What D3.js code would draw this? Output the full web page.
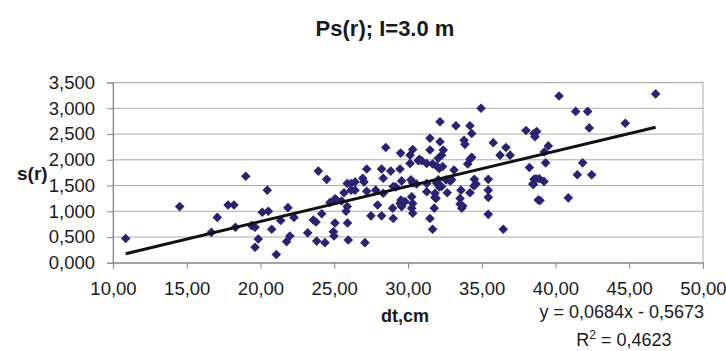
<!DOCTYPE html>
<html>
<head>
<meta charset="utf-8">
<script src="https://cdn.jsdelivr.net/npm/d3@7"></script>
<style>
  body { margin: 0; background: #fff; }
  text { font-family: "Liberation Sans", Arial, sans-serif; fill: #1a1a1a; }
</style>
</head>
<body>
<div id="chart"></div>
<script>
// values
const dtValues = [10.86, 14.52, 16.67, 17.07, 17.80, 18.20, 18.30, 19.00, 19.40, 19.63,
  19.63, 19.85, 20.12, 20.46, 20.53, 20.76, 21.07, 21.37, 21.86, 22.27,
  21.77, 21.99, 23.20, 23.92, 24.49, 23.58, 23.76, 24.15, 23.81, 24.37,
  24.71, 25.05, 24.94, 24.98, 25.90, 25.95, 27.08, 25.80, 25.88, 25.05,
  25.16, 25.50, 25.66, 25.88, 26.14, 26.41, 26.14, 26.41, 26.93, 27.02,
  27.20, 27.20, 27.49, 27.94, 28.21, 27.81, 28.21, 28.32, 28.49, 28.83,
  29.00, 28.96, 29.17, 28.32, 29.50, 29.46, 29.57, 29.52, 29.57, 29.46,
  30.14, 30.32, 30.14, 30.70, 30.20, 30.25, 30.32, 30.25, 30.32, 29.80,
  29.00, 34.95, 32.17, 33.25, 34.20, 34.32, 31.49, 32.17, 33.80, 33.86,
  31.49, 32.39, 32.28, 35.78, 36.64, 36.24, 36.92, 38.00, 38.54, 38.72,
  38.61, 32.05, 30.93, 30.77, 31.27, 31.67, 31.94, 32.12, 32.35, 34.20,
  34.05, 34.32, 33.12, 30.32, 30.58, 31.27, 32.05, 31.94, 32.58, 32.85,
  32.96, 32.12, 32.28, 32.66, 31.27, 31.83, 31.83, 31.90, 33.59, 34.20,
  34.50, 34.61, 34.47, 35.44, 35.44, 35.44, 35.44, 36.46, 38.23, 38.46,
  38.54, 38.83, 33.53, 33.53, 33.71, 33.64, 31.67, 31.49, 31.78, 40.24,
  41.37, 42.18, 42.29, 39.51, 39.24, 39.33, 41.84, 38.68, 38.90, 39.22,
  38.50, 41.48, 42.45, 38.95, 40.87, 46.79, 44.73];
const sValues = [0.47, 1.09, 0.59, 0.88, 1.12, 1.12, 0.69, 1.68, 0.72, 0.69,
  0.30, 0.46, 0.98, 1.41, 1.00, 0.65, 0.16, 0.82, 1.07, 0.88,
  0.41, 0.52, 0.58, 1.78, 1.62, 0.83, 0.79, 0.95, 0.42, 0.39,
  1.17, 0.77, 0.60, 0.52, 0.77, 0.44, 0.39, 1.00, 1.09, 1.24,
  1.22, 1.20, 1.36, 1.54, 1.54, 1.57, 1.41, 1.41, 1.64, 1.57,
  1.82, 1.39, 0.91, 1.12, 0.91, 1.41, 1.82, 1.64, 2.24, 1.78,
  0.86, 1.06, 1.47, 1.35, 2.13, 1.82, 1.59, 1.22, 1.09, 1.15,
  2.09, 2.20, 1.93, 1.98, 1.61, 1.28, 1.15, 1.06, 0.96, 1.19,
  1.48, 3.00, 2.74, 2.66, 2.66, 2.51, 2.42, 2.35, 2.38, 2.30,
  2.19, 2.19, 2.09, 2.33, 2.24, 2.09, 2.09, 2.57, 2.51, 2.55,
  2.45, 2.03, 1.98, 2.01, 1.93, 1.92, 1.88, 1.83, 1.87, 2.01,
  1.92, 2.05, 1.80, 1.55, 1.53, 1.54, 1.61, 1.55, 1.61, 1.59,
  1.61, 1.47, 1.48, 1.36, 1.38, 1.35, 1.27, 1.25, 1.41, 1.36,
  1.62, 1.53, 1.49, 1.62, 1.41, 1.27, 0.94, 0.65, 1.85, 1.53,
  1.62, 1.22, 1.25, 1.14, 1.10, 1.06, 0.65, 0.86, 1.06, 3.24,
  2.94, 2.94, 2.62, 2.27, 2.15, 1.94, 1.94, 1.63, 1.63, 1.58,
  1.52, 1.71, 1.71, 1.21, 1.26, 3.28, 2.71];
const xTicks = [10, 15, 20, 25, 30, 35, 40, 45, 50];
const yTicks = [0, 0.5, 1, 1.5, 2, 2.5, 3, 3.5];
const trendSlope = 0.0684;
const trendIntercept = -0.5673;
const rSquared = "0,4623";

const width = 726, height = 351;
const plot = { left: 113, right: 703, top: 82.6, bottom: 262.7 };

const svg = d3.select('#chart').append('svg')
  .attr('width', width)
  .attr('height', height);

const x = d3.scaleLinear().domain([10, 50]).range([plot.left, plot.right]);
const y = d3.scaleLinear().domain([0, 3.5]).range([plot.bottom, plot.top]);

const comma = (fmt) => (d) => d3.format(fmt)(d).replace('.', ',');

// gridlines
svg.append('g')
  .selectAll('line')
  .data(yTicks)
  .enter().append('line')
  .attr('x1', plot.left).attr('x2', plot.right)
  .attr('y1', d => y(d)).attr('y2', d => y(d))
  .attr('stroke', '#aaa')
  .attr('stroke-width', 1);

// plot border
svg.append('rect')
  .attr('x', plot.left).attr('y', plot.top)
  .attr('width', plot.right - plot.left)
  .attr('height', plot.bottom - plot.top)
  .attr('fill', 'none')
  .attr('stroke', '#aaa');

const xAxis = svg.append('g')
  .attr('transform', `translate(0,${plot.bottom})`)
  .call(d3.axisBottom(x).tickValues(xTicks).tickSize(6).tickPadding(13).tickFormat(comma('.2f')));

const yAxis = svg.append('g')
  .attr('transform', `translate(${plot.left},0)`)
  .call(d3.axisLeft(y).tickValues(yTicks).tickSize(6).tickPadding(12).tickFormat(comma('.3f')));

[xAxis, yAxis].forEach(a => {
  a.select('.domain').attr('stroke', '#888');
  a.selectAll('.tick line').attr('stroke', '#888');
  a.selectAll('.tick text')
    .style('font-size', '18.5px')
    .style('font-family', '"Liberation Sans", Arial, sans-serif')
    .attr('fill', '#1a1a1a');
});

// scatter points
const points = dtValues.map((d, i) => ({ dt: d, s: sValues[i] }));
svg.append('g')
  .selectAll('path')
  .data(points)
  .enter().append('path')
  .attr('d', d3.symbol(d3.symbolSquare, 46))
  .attr('transform', d => `translate(${x(d.dt)},${y(d.s)}) rotate(45)`)
  .attr('fill', '#2b2272');

// linear trendline
const xMin = d3.min(dtValues), xMax = d3.max(dtValues);
svg.append('line')
  .attr('x1', x(xMin)).attr('y1', y(trendSlope * xMin + trendIntercept))
  .attr('x2', x(xMax)).attr('y2', y(trendSlope * xMax + trendIntercept))
  .attr('stroke', '#111')
  .attr('stroke-width', 3);

// titles
svg.append('text')
  .attr('x', 385).attr('y', 36)
  .attr('text-anchor', 'middle')
  .style('font-size', '22px').style('font-weight', 'bold')
  .text('Ps(r); I=3.0 m');

svg.append('text')
  .attr('x', 17).attr('y', 180)
  .style('font-size', '19px').style('font-weight', 'bold')
  .text('s(r)');

svg.append('text')
  .attr('x', 405).attr('y', 322)
  .attr('text-anchor', 'middle')
  .style('font-size', '18px').style('font-weight', 'bold')
  .text('dt,cm');

// equation label
svg.append('text')
  .attr('x', 704).attr('y', 318)
  .attr('text-anchor', 'end')
  .style('font-size', '18px')
  .text(`y = ${comma('.4f')(trendSlope)}x - ${comma('.4f')(-trendIntercept)}`);

const r2 = svg.append('text')
  .attr('x', 624).attr('y', 346)
  .attr('text-anchor', 'middle')
  .style('font-size', '18px');
r2.append('tspan').text('R');
r2.append('tspan').attr('dy', -7).style('font-size', '12px').text('2');
r2.append('tspan').attr('dy', 7).text(` = ${rSquared}`);
</script>
</body>
</html>
